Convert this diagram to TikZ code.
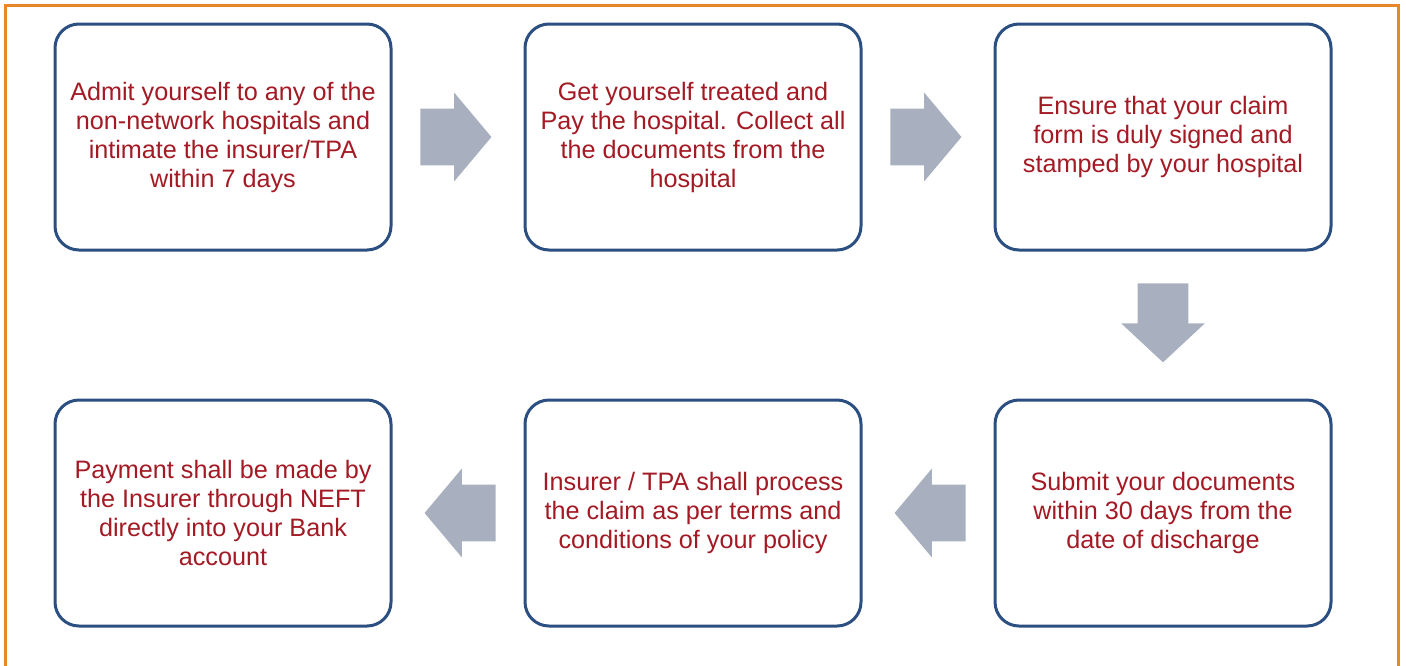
\documentclass[tikz,border=0pt]{standalone}
\usepackage{fontspec}
\setmainfont{Liberation Sans}
\usepackage{xcolor}
\usetikzlibrary{shapes.arrows, positioning, calc}

\definecolor{boxblue}{RGB}{43,79,129}
\definecolor{txtred}{RGB}{163,26,36}
\definecolor{arrgray}{RGB}{168,175,191}
\definecolor{frameorange}{RGB}{232,134,42}

\begin{document}
\begin{tikzpicture}[
    x=0.5pt, y=-0.5pt,
    box/.style={rectangle, draw=boxblue, line width=1.5pt, rounded corners=12pt, fill=white,
        minimum width=168pt, minimum height=113pt, outer sep=0pt, align=center, text=txtred,
        font=\fontsize{12.6}{14.5}\selectfont},
    blkarr/.style={single arrow, fill=arrgray, draw=none, inner xsep=0pt, inner ysep=14pt, outer sep=0pt,
        single arrow head extend=8pt, single arrow tip angle=100, minimum height=35.5pt},
    rightarr/.style={blkarr, xshift=-7pt},
    leftarr/.style={blkarr, shape border rotate=180, xshift=7pt},
    downarr/.style={blkarr, inner xsep=12.5pt, inner ysep=0pt, single arrow head extend=8.25pt,
        single arrow tip angle=94, minimum height=39.5pt, shape border rotate=270, yshift=7pt},
    frame/.style={draw=frameorange, line width=1.5pt}
]
\useasboundingbox (0,0) rectangle (1406,665);
\clip (0,0) rectangle (1406,665);

% outer frame
\draw[frame] (5,5) rectangle (1398,690);

% top row
\node[box] (admit) at (223,137) {Admit yourself to any of the\\non-network hospitals and\\intimate the insurer/TPA\\within 7 days};
\node[box, right=67pt of admit] (treat) {Get yourself treated and\\Pay the hospital. Collect all\\the documents from the\\hospital};
\node[box, right=67pt of treat] (claim) {Ensure that your claim\\form is duly signed and\\stamped by your hospital};

% bottom row
\node[box, below=75pt of claim] (submit) {Submit your documents\\within 30 days from the\\date of discharge};
\node[box, left=67pt of submit] (process) {Insurer / TPA shall process\\the claim as per terms and\\conditions of your policy};
\node[box, left=67pt of process] (payment) {Payment shall be made by\\the Insurer through NEFT\\directly into your Bank\\account};

% block arrows
\node[rightarr] (a1) at ($(admit.east)!0.5!(treat.west)$) {};
\node[rightarr] (a2) at ($(treat.east)!0.5!(claim.west)$) {};
\node[downarr] (a3) at ($(claim.south)!0.5!(submit.north)$) {};
\node[leftarr] (a4) at ($(submit.west)!0.5!(process.east)$) {};
\node[leftarr] (a5) at ($(process.west)!0.5!(payment.east)$) {};

\end{tikzpicture}
\end{document}
